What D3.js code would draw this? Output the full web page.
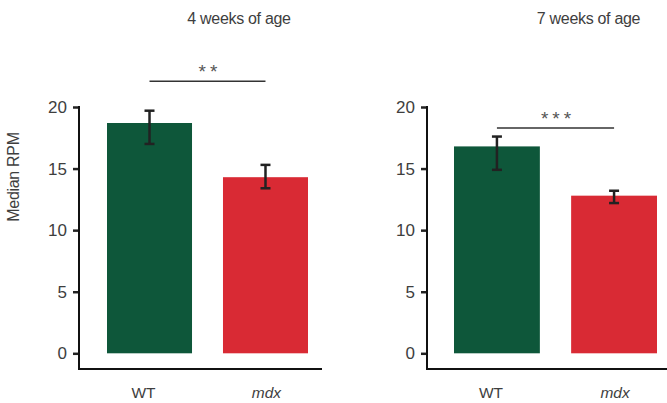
<!DOCTYPE html>
<html>
<head>
<meta charset="utf-8">
<script src="https://cdn.jsdelivr.net/npm/d3@7"></script>
<style>
  html, body { margin: 0; padding: 0; background: #fff; }
  svg { display: block; font-family: "Liberation Sans", Arial, sans-serif; }
</style>
</head>
<body>
<svg id="chart" width="667" height="403"></svg>
<script>
// ---- data ----
const categories = ["WT", "mdx"];
const panelTitles = ["4 weeks of age", "7 weeks of age"];
const week4Values = [18.7, 14.3];
const week4Lower  = [17.0, 13.4];
const week4Upper  = [19.7, 15.3];
const week7Values = [16.8, 12.8];
const week7Lower  = [14.9, 12.2];
const week7Upper  = [17.6, 13.2];
const significance = ["**", "***"];
const sigLevel = [22.1, 18.3];
const yTicks = [0, 5, 10, 15, 20];

// ---- layout ----
const svg = d3.select("#chart");
const colors = ["#0e573a", "#d92a34"];
const yScale = d3.scaleLinear().domain([0, 20]).range([353.3, 107]);
const axisBottomY = 369;

const panels = [
  { title: panelTitles[0], values: week4Values, lower: week4Lower, upper: week4Upper,
    sig: significance[0], sigY: sigLevel[0],
    axisX: 79, xEnd: 322, band: [107, 308], titleX: 239 },
  { title: panelTitles[1], values: week7Values, lower: week7Lower, upper: week7Upper,
    sig: significance[1], sigY: sigLevel[1],
    axisX: 427, xEnd: 667, band: [454, 657], titleX: 588.5 }
];

panels.forEach((p, pi) => {
  const g = svg.append("g");
  const x = d3.scaleBand().domain(categories).range(p.band).paddingInner(0.267).paddingOuter(0);

  // title
  g.append("text")
    .attr("x", p.titleX).attr("y", 24)
    .attr("text-anchor", "middle")
    .attr("font-size", 16).attr("letter-spacing", -0.3)
    .attr("fill", "#3e3e3e")
    .text(p.title);

  // bars
  g.selectAll("rect.bar").data(categories).enter().append("rect")
    .attr("class", "bar")
    .attr("x", d => x(d))
    .attr("width", x.bandwidth())
    .attr("y", (d, i) => yScale(p.values[i]))
    .attr("height", (d, i) => yScale(0) - yScale(p.values[i]))
    .attr("fill", (d, i) => colors[i]);

  // error bars
  const eb = g.selectAll("g.err").data(categories).enter().append("g").attr("class", "err")
    .attr("stroke", "#222").attr("stroke-width", 2.5);
  eb.append("line")
    .attr("x1", d => x(d) + x.bandwidth() / 2).attr("x2", d => x(d) + x.bandwidth() / 2)
    .attr("y1", (d, i) => yScale(p.upper[i])).attr("y2", (d, i) => yScale(p.lower[i]));
  eb.append("line")
    .attr("x1", d => x(d) + x.bandwidth() / 2 - 5).attr("x2", d => x(d) + x.bandwidth() / 2 + 5)
    .attr("y1", (d, i) => yScale(p.upper[i])).attr("y2", (d, i) => yScale(p.upper[i]));
  eb.append("line")
    .attr("x1", d => x(d) + x.bandwidth() / 2 - 5).attr("x2", d => x(d) + x.bandwidth() / 2 + 5)
    .attr("y1", (d, i) => yScale(p.lower[i])).attr("y2", (d, i) => yScale(p.lower[i]));

  // y axis
  const yAxis = d3.axisLeft(yScale).tickValues(yTicks).tickSize(6).tickPadding(6).tickSizeOuter(0);
  const ya = g.append("g").attr("transform", `translate(${p.axisX},0)`).call(yAxis);
  ya.select(".domain").remove();
  ya.selectAll(".tick line").attr("stroke", "#222").attr("stroke-width", 2.5);
  ya.selectAll(".tick text")
    .attr("font-size", 17).attr("fill", "#3e3e3e")
    .attr("font-family", "Liberation Sans, Arial, sans-serif");
  g.append("line")
    .attr("x1", p.axisX).attr("x2", p.axisX)
    .attr("y1", yScale(20) - 1).attr("y2", axisBottomY)
    .attr("stroke", "#111").attr("stroke-width", 2);

  // x axis line
  g.append("line")
    .attr("x1", p.axisX - 1).attr("x2", p.xEnd)
    .attr("y1", axisBottomY).attr("y2", axisBottomY)
    .attr("stroke", "#111").attr("stroke-width", 2);

  // x labels
  g.selectAll("text.xl").data(categories).enter().append("text")
    .attr("class", "xl")
    .attr("x", d => x(d) + x.bandwidth() / 2)
    .attr("dx", (d, i) => i === 0 ? -6 : 1)
    .attr("y", 398)
    .attr("text-anchor", "middle")
    .attr("font-size", 15.5).attr("fill", "#3e3e3e")
    .attr("font-style", (d, i) => i === 1 ? "italic" : "normal")
    .text(d => d);

  // significance bracket
  const cx0 = x(categories[0]) + x.bandwidth() / 2;
  const cx1 = x(categories[1]) + x.bandwidth() / 2;
  g.append("line")
    .attr("x1", cx0).attr("x2", cx1)
    .attr("y1", yScale(p.sigY)).attr("y2", yScale(p.sigY))
    .attr("stroke", "#333").attr("stroke-width", 1.5);
  g.append("text")
    .attr("x", (cx0 + cx1) / 2 + 2.5).attr("y", yScale(p.sigY) - 3)
    .attr("text-anchor", "middle")
    .attr("font-size", 19).attr("letter-spacing", 4)
    .attr("fill", "#555")
    .text(p.sig);
});

// y axis title
svg.append("text")
  .attr("transform", "translate(19,177) rotate(-90)")
  .attr("text-anchor", "middle")
  .attr("font-size", 16).attr("fill", "#3e3e3e")
  .attr("letter-spacing", -0.3)
  .text("Median RPM");
</script>
</body>
</html>
